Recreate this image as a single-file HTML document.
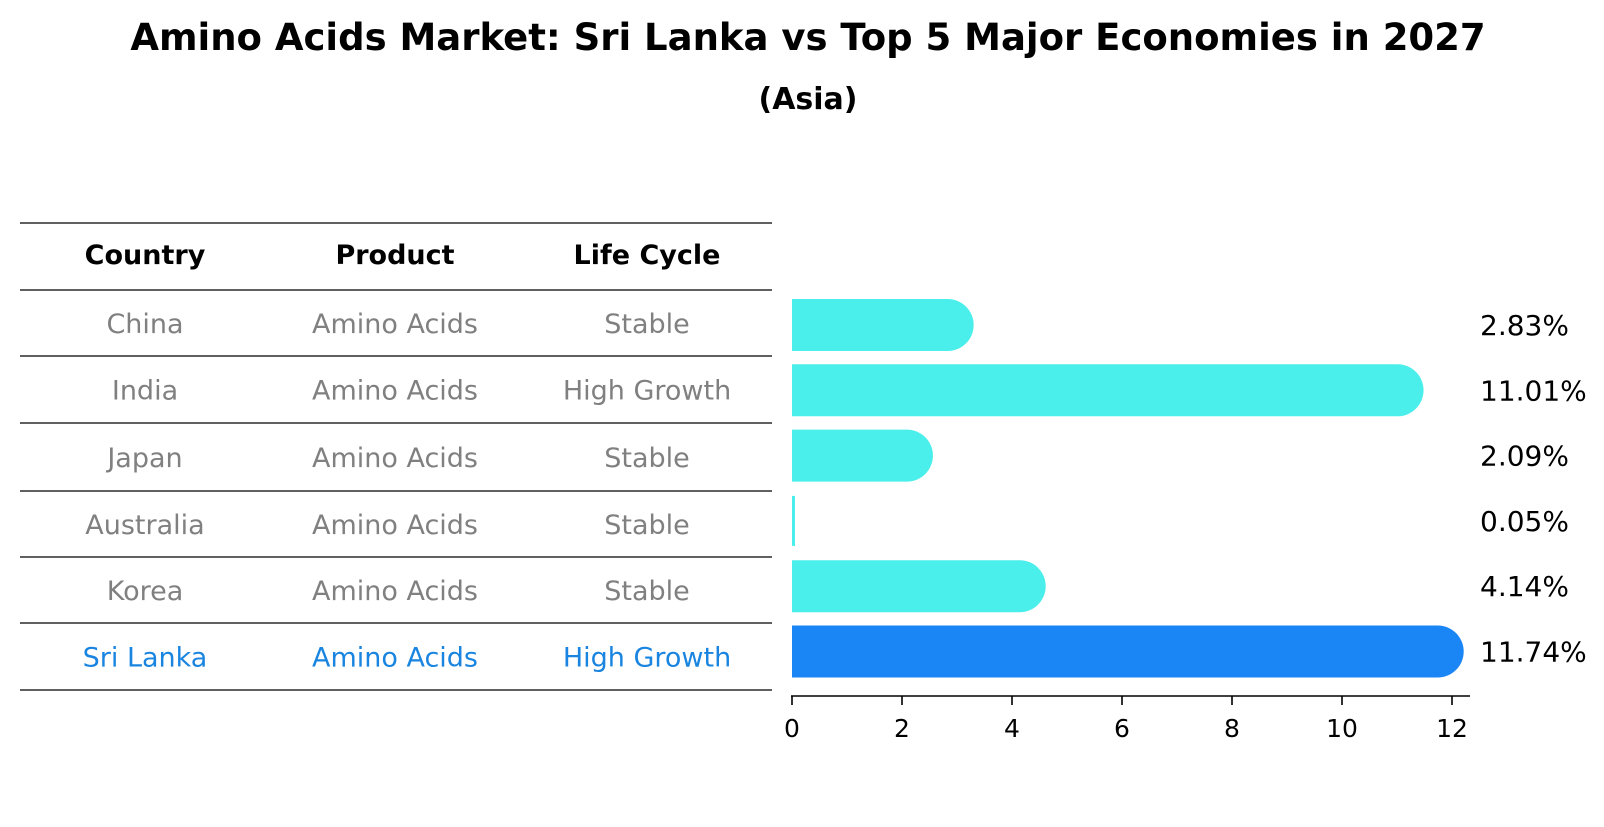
<!DOCTYPE html>
<html><head><meta charset="utf-8"><style>
body{margin:0;background:#fff;font-family:"DejaVu Sans","Liberation Sans",sans-serif}
</style></head><body>
<svg width="1604" height="823" xmlns="http://www.w3.org/2000/svg" font-family="'DejaVu Sans','Liberation Sans',sans-serif">
<text x="808" y="50" text-anchor="middle" font-size="37" font-weight="bold">Amino Acids Market: Sri Lanka vs Top 5 Major Economies in 2027</text>
<text x="808" y="109" text-anchor="middle" font-size="30" font-weight="bold">(Asia)</text>
<g id="table"></g>
<g id="bars"></g>
<g id="axis"></g>
</svg>
<script>
const countries=["China","India","Japan","Australia","Korea","Sri Lanka"];
const products=["Amino Acids","Amino Acids","Amino Acids","Amino Acids","Amino Acids","Amino Acids"];
const lifeCycles=["Stable","High Growth","Stable","Stable","Stable","High Growth"];
const values=[2.83,11.01,2.09,0.05,4.14,11.74];
const xTicks=[0,2,4,6,8,10,12];
const NS="http://www.w3.org/2000/svg";
function mk(t,a,p){const e=document.createElementNS(NS,t);for(const k in a)e.setAttribute(k,a[k]);p.appendChild(e);return e;}
const x=v=>792+v*55;
const rowY=i=>325+i*65.3;
const table=document.getElementById('table'),bars=document.getElementById('bars'),axis=document.getElementById('axis');
const lines=[223,290,356,423,491,557,623,690];
lines.forEach(y=>{const l=mk('line',{x1:20,x2:772,y1:y,y2:y,stroke:'#000','stroke-width':1.2},table);

});
const cols=[145,395,647];
["Country","Product","Life Cycle"].forEach((h,j)=>{const t=mk('text',{x:cols[j],y:264,'text-anchor':'middle','font-size':27,'font-weight':'bold'},table);t.textContent=h;

});
countries.forEach((c,i)=>{
 const col=i===5?'#1a85e0':'#808080';
 const ty=(lines[i+1]+lines[i+2])/2+10;
 [c,products[i],lifeCycles[i]].forEach((s,j)=>{const t=mk('text',{x:cols[j],y:ty,'text-anchor':'middle','font-size':27,fill:col},table);t.textContent=s;
 
 });
 const h=52, y0=rowY(i)-h/2, r=h/2, xe=x(values[i]);
 const fill=i===5?'#1a85f5':'#4aeeea';
 const w=xe-792;
 let d;
 if(w<6){d=`M792 ${y0+1} h3 v${h-2} h-3 Z`;}
 else d=`M792 ${y0} H${xe} A${r} ${r} 0 0 1 ${xe} ${y0+h} H792 Z`;
 const b=mk('path',{d:d,fill:fill},bars);
 
 
 const lt=mk('text',{x:1480,y:rowY(i)+10,'font-size':28},bars);lt.textContent=values[i].toFixed(2)+'%';
 
 
});
const al=mk('line',{x1:791,x2:1470,y1:696,y2:696,stroke:'#000','stroke-width':1.6},axis);


xTicks.forEach(v=>{const tl=mk('line',{x1:x(v),x2:x(v),y1:696,y2:705,stroke:'#000','stroke-width':1.6},axis);


const t=mk('text',{x:x(v),y:737,'text-anchor':'middle','font-size':25},axis);t.textContent=v;

});
</script>
</body></html>
